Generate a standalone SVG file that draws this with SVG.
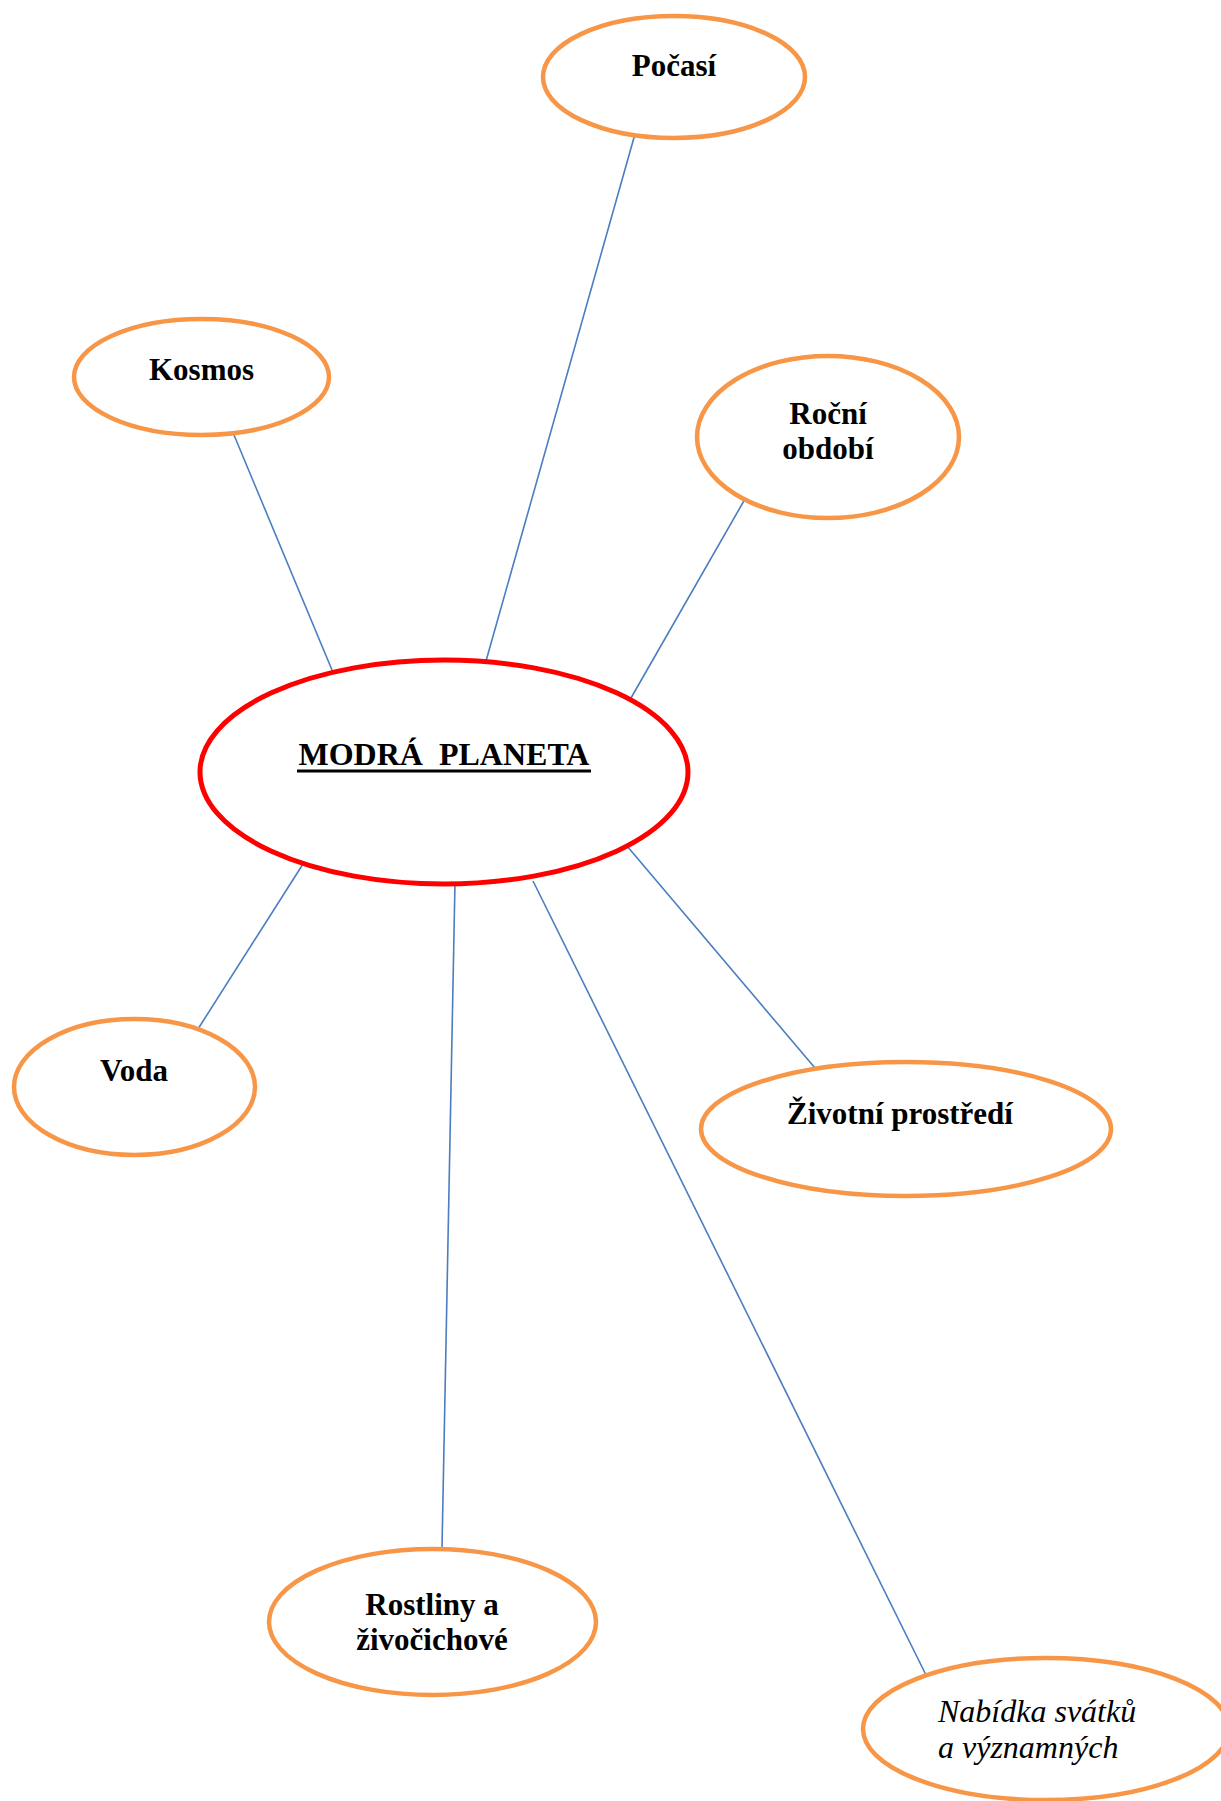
<svg xmlns="http://www.w3.org/2000/svg" width="1221" height="1801" viewBox="0 0 1221 1801">
<style>
.bg{fill:#ffffff}
.node{fill:#ffffff;stroke:#F79646;stroke-width:4.5}
.center{fill:#ffffff;stroke:#FF0000;stroke-width:5}
.conn{stroke:#4A7EC0;stroke-width:1.6;fill:none}
.t{font-family:"Liberation Serif","Times New Roman",serif;font-size:31px;font-weight:bold;fill:#000000;text-anchor:middle}
.ti{font-family:"Liberation Serif","Times New Roman",serif;font-size:32px;font-style:italic;fill:#000000}
</style>
<rect class="bg" x="0" y="0" width="1221" height="1801"/>
<g id="connectors">
<line class="conn" x1="234" y1="435" x2="332" y2="670"/>
<line class="conn" x1="635" y1="134" x2="486" y2="661"/>
<line class="conn" x1="745" y1="499" x2="631" y2="698"/>
<line class="conn" x1="303" y1="864" x2="198" y2="1029"/>
<line class="conn" x1="455" y1="882" x2="442" y2="1548"/>
<line class="conn" x1="533" y1="881" x2="926" y2="1675"/>
<line class="conn" x1="627" y1="846" x2="815" y2="1068"/>
</g>
<g id="pocasi">
<ellipse class="node" cx="674" cy="77" rx="131" ry="61"/>
<text class="t" x="674" y="76">Počasí</text>
</g>
<g id="kosmos">
<ellipse class="node" cx="201.5" cy="377" rx="127.5" ry="58"/>
<text class="t" x="201.5" y="380">Kosmos</text>
</g>
<g id="rocni-obdobi">
<ellipse class="node" cx="828" cy="437" rx="131" ry="81"/>
<text class="t" x="828" y="424">Roční</text>
<text class="t" x="828" y="459">období</text>
</g>
<g id="modra-planeta">
<ellipse class="center" cx="444" cy="772" rx="244" ry="112"/>
<text class="t" x="444" y="765" style="font-size:32px;white-space:pre">MODRÁ  PLANETA</text>
<rect x="297" y="769.5" width="294" height="3" fill="#000000"/>
</g>
<g id="voda">
<ellipse class="node" cx="134.5" cy="1087" rx="120.5" ry="68"/>
<text class="t" x="134" y="1081">Voda</text>
</g>
<g id="zivotni-prostredi">
<ellipse class="node" cx="906" cy="1129" rx="205" ry="67"/>
<text class="t" x="900" y="1124">Životní prostředí</text>
</g>
<g id="rostliny">
<ellipse class="node" cx="432.5" cy="1622" rx="163.5" ry="73"/>
<text class="t" x="432" y="1615">Rostliny a</text>
<text class="t" x="432" y="1650">živočichové</text>
</g>
<g id="nabidka">
<ellipse class="node" cx="1046" cy="1729" rx="183" ry="71"/>
<text class="ti" x="938" y="1722">Nabídka svátků</text>
<text class="ti" x="938" y="1758">a významných</text>
</g>
</svg>
